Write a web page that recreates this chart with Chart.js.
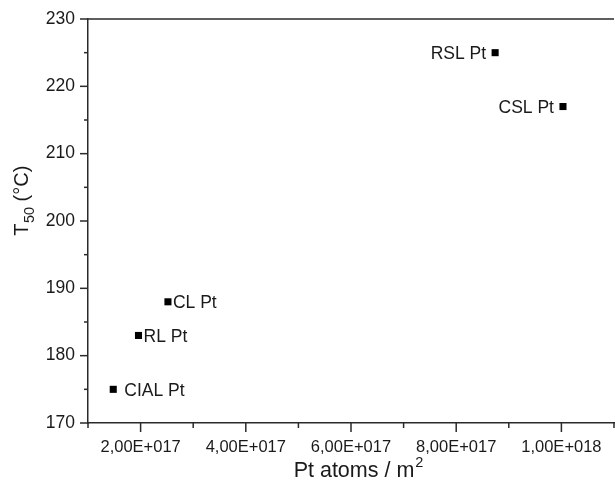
<!DOCTYPE html>
<html>
<head>
<meta charset="utf-8">
<script src="https://cdn.jsdelivr.net/npm/chart.js@4.4.1/dist/chart.umd.min.js"></script>
<style>
  html, body { margin: 0; padding: 0; background: #fff; overflow: hidden; }
  #wrap { width: 615px; height: 484px; position: relative; overflow: hidden; }
  #c { display: block; }
</style>
</head>
<body>
<div id="wrap"><canvas id="c" width="619" height="484"></canvas></div>
<script>
// ---- data ----
const sampleNames = ['CIAL Pt', 'RL Pt', 'CL Pt', 'RSL Pt', 'CSL Pt'];
const ptAtoms = [1.48e17, 1.96e17, 2.52e17, 8.74e17, 1.003e18];
const t50 = [175, 183, 188, 225, 217];
const labelSide = ['right', 'right', 'right', 'left', 'left'];

const xMin = 1e17, xMax = 1.1e18, xStep = 1e17;
const yMin = 170, yMax = 230, yStep = 5;

const FONT = "'Liberation Sans', Arial, Helvetica, sans-serif";
const INK = '#1a1a1a';

function sciLabel(v) {
  const exp = Math.floor(Math.log10(v) + 1e-9);
  const man = v / Math.pow(10, exp);
  return man.toFixed(2).replace('.', ',') + 'E+' + String(exp).padStart(3, '0');
}

const decorPlugin = {
  id: 'decor',
  afterDraw(chart) {
    const ctx = chart.ctx;
    const a = chart.chartArea;
    const xs = chart.scales.x, ys = chart.scales.y;
    ctx.save();
    ctx.strokeStyle = '#2a2a2a';
    ctx.lineWidth = 1.5;
    // top frame line
    ctx.beginPath();
    ctx.moveTo(a.left, a.top);
    ctx.lineTo(a.right, a.top);
    ctx.stroke();
    // y ticks
    ys.ticks.forEach(t => {
      const y = ys.getPixelForValue(t.value);
      const major = Math.round(t.value) % 10 === 0;
      ctx.beginPath();
      ctx.moveTo(a.left - (major ? 8 : 4), y);
      ctx.lineTo(a.left, y);
      ctx.stroke();
    });
    // x ticks
    xs.ticks.forEach(t => {
      const x = xs.getPixelForValue(t.value);
      const k = Math.round(t.value / 1e17);
      const major = k % 2 === 0;
      ctx.beginPath();
      ctx.moveTo(x, a.bottom);
      ctx.lineTo(x, a.bottom + (major ? 9 : 5));
      ctx.stroke();
    });

    // point labels
    const meta = chart.getDatasetMeta(0);
    ctx.fillStyle = INK;
    ctx.font = '17.5px ' + FONT;
    ctx.textBaseline = 'middle';
    meta.data.forEach((pt, i) => {
      const side = labelSide[i];
      if (side === 'right') {
        ctx.textAlign = 'left';
        const off = sampleNames[i].startsWith('CIAL') ? 11 : 5;
        ctx.fillText(sampleNames[i], pt.x + off, pt.y + 1.5);
      } else {
        ctx.textAlign = 'right';
        ctx.fillText(sampleNames[i], pt.x - 9, pt.y + 1.5);
      }
    });

    // x title with superscript
    ctx.textAlign = 'left';
    ctx.textBaseline = 'alphabetic';
    const main = 'Pt atoms / m';
    ctx.font = '21.5px ' + FONT;
    const w1 = ctx.measureText(main).width;
    ctx.font = '14.5px ' + FONT;
    const w2 = ctx.measureText('2').width;
    const cx = (a.left + a.right) / 2 + 7;
    const sx = cx - (w1 + w2) / 2;
    const by = 476.5;
    ctx.font = '21.5px ' + FONT;
    ctx.fillText(main, sx, by);
    ctx.font = '14.5px ' + FONT;
    ctx.fillText('2', sx + w1 + 1, by - 10);

    // y title with subscript (rotated)
    ctx.save();
    const baseX = 28;
    const p1 = 'T', p2 = '50', p3 = ' (°C)';
    ctx.font = '20px ' + FONT;
    const q1 = ctx.measureText(p1).width;
    const q3 = ctx.measureText(p3).width;
    ctx.font = '14.5px ' + FONT;
    const q2 = ctx.measureText(p2).width;
    const total = q1 + q2 + q3;
    const cy = (a.top + a.bottom) / 2 - 20;
    ctx.translate(baseX, cy + total / 2);
    ctx.rotate(-Math.PI / 2);
    ctx.font = '20px ' + FONT;
    ctx.fillText(p1, 0, 0);
    ctx.font = '14.5px ' + FONT;
    ctx.fillText(p2, q1 + 0.5, 5.5);
    ctx.font = '20px ' + FONT;
    ctx.fillText(p3, q1 + q2 + 0.5, 0);
    ctx.restore();

    ctx.restore();
  }
};

const points = ptAtoms.map((x, i) => ({ x: x, y: t50[i] }));

new Chart(document.getElementById('c'), {
  type: 'scatter',
  data: {
    datasets: [{
      label: 'T50',
      data: points,
      pointStyle: 'rect',
      pointRadius: 5,
      pointHoverRadius: 5,
      backgroundColor: '#000',
      borderColor: '#000',
      borderWidth: 0
    }]
  },
  options: {
    responsive: false,
    animation: false,
    devicePixelRatio: 1,
    layout: { padding: { top: 19, right: 0, left: 0, bottom: 0 } },
    plugins: {
      legend: { display: false },
      tooltip: { enabled: false },
      title: { display: false }
    },
    scales: {
      x: {
        type: 'linear',
        min: xMin, max: xMax,
        afterFit(s) { s.height = 61; s.paddingLeft = 0; s.paddingRight = 0; },
        grid: { display: true, drawOnChartArea: false, drawTicks: false, color: 'rgba(0,0,0,0)' },
        border: { display: true, color: '#2a2a2a', width: 1.5 },
        ticks: {
          stepSize: xStep,
          padding: 15,
          autoSkip: false,
          maxRotation: 0,
          color: INK,
          font: { family: FONT, size: 16.5 },
          callback(v) {
            const k = Math.round(v / 1e17);
            if (k % 2 !== 0 || k === 0) return '';
            return sciLabel(k * 1e17);
          }
        }
      },
      y: {
        type: 'linear',
        min: yMin, max: yMax,
        afterFit(s) { s.width = 88; s.paddingTop = 0; s.paddingBottom = 0; },
        grid: { display: true, drawOnChartArea: false, drawTicks: false, color: 'rgba(0,0,0,0)' },
        border: { display: true, color: '#2a2a2a', width: 1.5 },
        ticks: {
          stepSize: yStep,
          padding: 13,
          autoSkip: false,
          color: INK,
          font: { family: FONT, size: 17.5 },
          callback(v) { return Math.round(v) % 10 === 0 ? String(v) : ''; }
        }
      }
    }
  },
  plugins: [decorPlugin]
});
</script>
</body>
</html>
